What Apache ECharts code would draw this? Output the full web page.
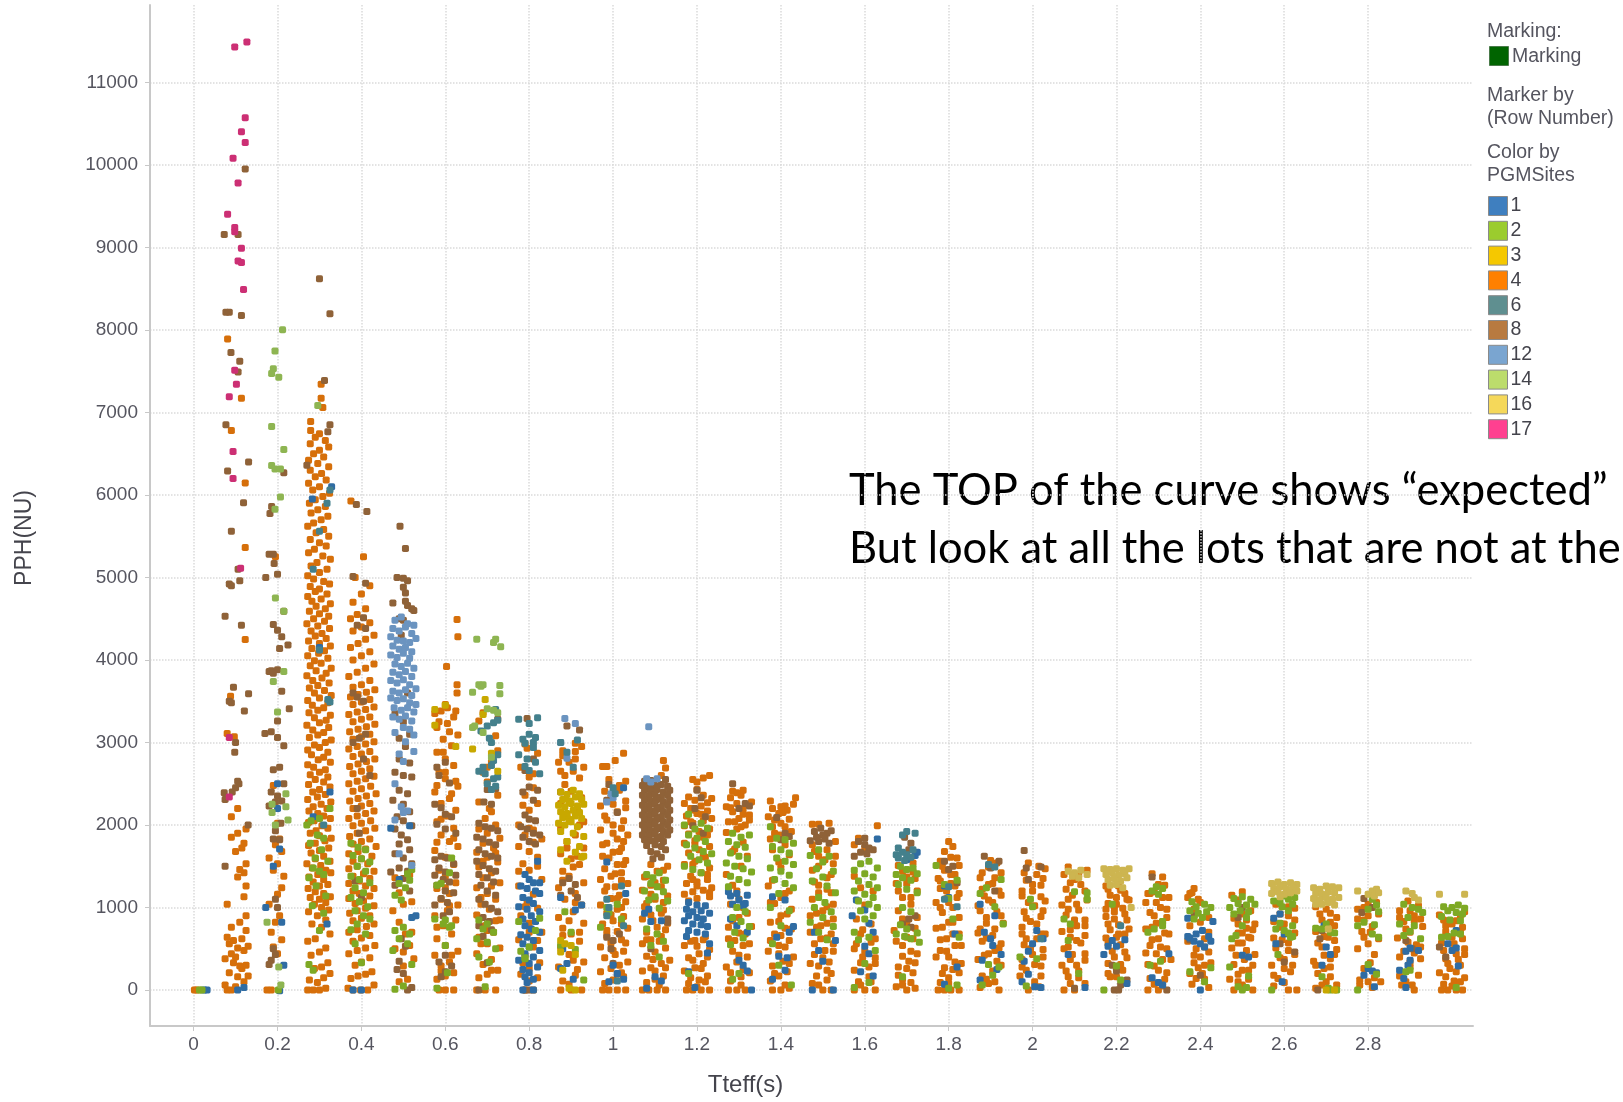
<!DOCTYPE html>
<html>
<head>
<meta charset="utf-8">
<script src="https://cdn.jsdelivr.net/npm/echarts@6/dist/echarts.min.js"></script>
<style>html,body{margin:0;background:#fff}#chart{width:1623px;height:1102px}</style>
</head>
<body>
<div id="chart"></div>
<script>
const xTicks = [0,.2,.4,.6,.8,1,1.2,1.4,1.6,1.8,2,2.2,2.4,2.6,2.8];
const yTicks = [0,1000,2000,3000,4000,5000,6000,7000,8000,9000,10000,11000];
const siteNames = ['1','2','3','4','6','8','12','14','16','17'];
// every site: x,y,x,y..., one line per Tteff column
const site4 = [
.002,0,.008,0,
.08,0,.09,0,.075,60,.1,40,.12,100,.13,170,.085,210,.105,160,.115,260,.125,300,.095,330,.11,290,.075,380,.09,440,.1,400,.12,480,.13,530,.085,560,.105,510,.08,640,.095,600,.115,620,.125,720,.09,760,.11,820,.125,900,.08,1040,.12,1130,.125,1260,.105,1370,.12,1420,.11,1460,.125,1530,.1,1680,.115,1720,.12,1780,.09,1850,.105,1900,.125,1950,.09,2100,.105,2200,.08,3110,.097,3070,.088,3560,.123,4247,.123,5362,.081,7890,.114,7170,.123,6145,.09,6780,
.175,0,.185,0,.19,520,.2,440,.21,610,.185,700,.195,820,.205,900,.18,1040,.2,1160,.21,1240,.215,1380,.19,1450,.2,1530,.18,1600,.21,1680,.195,1760,.205,1830,.2,2020,.19,2480,.195,5250,
.272,0,.285,0,.3,0,.315,20,.276,120,.295,90,.31,150,.325,200,.288,260,.305,280,.32,330,.28,420,.3,460,.315,510,.272,590,.29,620,.325,680,.305,760,.282,800,.315,850,.295,900,.274,950,.322,970,.305,1000,.288,1040,.315,1060,.3,1100,.278,1120,.326,1130,.31,1170,.29,1190,.273,1230,.3,1260,.32,1280,.285,1310,.31,1340,.275,1370,.296,1400,.327,1420,.315,1450,.283,1480,.303,1510,.27,1530,.325,1560,.29,1590,.31,1620,.28,1660,.3,1690,.322,1720,.274,1750,.29,1780,.313,1810,.328,1840,.3,1870,.278,1900,.292,1930,.32,1960,.306,1990,.274,2030,.287,2050,.326,2080,.31,2110,.296,2140,.275,2170,.318,2200,.285,2220,.304,2250,.327,2280,.272,2310,.295,2340,.314,2370,.284,2400,.3,2430,.325,2460,.274,2490,.31,2520,.29,2550,.32,2580,.278,2610,.3,2640,.314,2670,.286,2700,.272,2730,.326,2760,.297,2790,.31,2820,.281,2850,.32,2880,.272,2910,.3,2940,.288,2970,.314,3000,.328,3030,.276,3060,.296,3090,.31,3120,.284,3150,.322,3180,.27,3210,.3,3240,.316,3270,.288,3300,.326,3330,.275,3360,.296,3390,.31,3420,.283,3450,.32,3480,.272,3510,.3,3540,.328,3570,.288,3600,.312,3630,.276,3660,.296,3690,.323,3720,.284,3750,.306,3780,.27,3810,.316,3840,.292,3870,.328,3900,.278,3930,.304,3960,.288,3990,.32,4020,.272,4050,.298,4080,.312,4110,.282,4140,.326,4170,.3,4200,.274,4230,.316,4260,.29,4290,.306,4320,.28,4350,.324,4380,.296,4410,.27,4440,.312,4470,.286,4500,.322,4530,.3,4560,.276,4590,.314,4620,.292,4650,.326,4680,.282,4710,.304,4740,.272,4770,.318,4800,.29,4830,.3,4860,.278,4890,.324,4920,.31,4950,.286,4980,.272,5020,.3,5060,.318,5100,.28,5140,.294,5180,.326,5220,.308,5260,.274,5300,.288,5340,.316,5380,.3,5420,.278,5460,.322,5500,.292,5540,.31,5580,.272,5620,.286,5660,.304,5700,.32,5740,.28,5780,.296,5820,.314,5860,.276,5900,.29,5940,.308,5980,.324,6020,.284,6060,.3,6100,.274,6140,.316,6180,.29,6220,.305,6260,.278,6300,.322,6340,.296,6380,.274,6420,.31,6460,.286,6500,.3,6540,.322,6580,.278,6620,.314,6660,.29,6700,.279,6780,.3,6740,.279,6890,.304,7170,.308,7060,.304,7340,
.368,20,.38,0,.398,0,.415,0,.43,60,.375,140,.392,170,.41,190,.425,220,.385,300,.4,340,.42,390,.37,440,.39,480,.41,510,.432,540,.38,590,.4,630,.42,660,.37,700,.39,730,.412,770,.43,800,.38,840,.4,870,.42,900,.372,930,.39,960,.41,990,.43,1020,.385,1050,.405,1080,.37,1110,.42,1140,.395,1170,.38,1200,.43,1230,.41,1260,.37,1290,.395,1320,.42,1350,.38,1380,.405,1410,.43,1440,.37,1470,.39,1500,.415,1530,.38,1560,.4,1590,.425,1620,.37,1650,.392,1680,.41,1710,.435,1740,.38,1770,.4,1800,.42,1830,.372,1860,.39,1900,.41,1930,.432,1960,.38,1990,.4,2020,.422,2050,.37,2080,.39,2110,.41,2140,.43,2170,.38,2200,.4,2230,.42,2260,.372,2290,.392,2320,.412,2350,.435,2380,.38,2410,.4,2440,.422,2470,.37,2500,.39,2530,.41,2560,.43,2590,.38,2620,.4,2650,.42,2680,.372,2710,.392,2740,.412,2770,.432,2800,.38,2830,.4,2860,.42,2890,.37,2920,.39,2950,.41,2980,.43,3010,.38,3040,.4,3070,.42,3100,.372,3130,.392,3160,.412,3190,.432,3220,.38,3250,.4,3280,.42,3310,.37,3340,.39,3370,.41,3400,.43,3430,.38,3460,.4,3490,.42,3520,.374,3550,.392,3580,.412,3610,.432,3640,.38,3670,.4,3700,.42,3750,.37,3800,.39,3850,.41,3900,.43,3950,.38,4000,.4,4050,.42,4100,.374,4150,.392,4200,.41,4250,.43,4300,.38,4350,.4,4400,.42,4450,.374,4500,.39,4550,.41,4620,.38,4700,.4,4800,.42,4900,.385,5000,.405,5250,.375,5925,
.48,500,.5,460,.515,540,.49,820,.505,680,.52,700,.475,960,.5,1040,.52,1070,.49,1180,.515,1400,.48,1360,.49,100,.51,130,.5,290,.525,380,
.585,0,.6,0,.62,0,.58,130,.6,170,.62,210,.59,290,.61,340,.575,420,.63,470,.6,540,.58,620,.615,680,.595,780,.625,850,.575,900,.605,960,.63,1030,.59,1100,.61,1170,.58,1230,.625,1300,.6,1380,.585,1450,.62,1520,.6,1610,.575,1690,.63,1740,.61,1800,.59,1880,.62,1960,.58,2040,.605,2110,.625,2180,.59,2260,.61,2320,.575,2400,.63,2470,.6,2560,.585,2640,.62,2720,.6,2800,.58,2880,.615,2960,.595,3040,.63,3090,.58,3180,.605,3230,.62,3310,.59,3380,.575,3350,.605,3420,.6,3460,.625,3380,.628,3600,.628,3700,.63,4280,.628,4490,.603,3920,
.59,230,.615,420,.58,760,.61,1020,.6,1240,.58,1790,.62,1840,.59,2070,.615,2380,.6,2640,.58,2480,.625,2530,.595,2880,.61,3130,.585,3250,
.675,0,.695,0,.72,0,.68,150,.7,190,.725,240,.69,310,.71,370,.675,440,.73,510,.7,560,.68,640,.715,700,.695,780,.73,850,.675,910,.705,980,.685,1040,.72,1100,.7,1170,.675,1240,.73,1300,.69,1360,.71,1420,.68,1490,.725,1550,.7,1610,.675,1670,.715,1720,.69,1780,.73,1840,.7,1900,.68,1950,.72,2000,.695,2080,.71,2160,.68,2280,.725,2360,.7,2520,.69,2640,.71,2760,.68,3260,.69,3360,.725,2900,
.71,240,.685,560,.7,720,.72,840,.685,1120,.71,1260,.69,1560,.72,1660,.705,2200,.7,2700,.72,3080,
.79,0,.81,0,.78,190,.8,260,.825,330,.79,420,.81,520,.775,610,.83,700,.8,810,.78,900,.82,990,.795,1060,.81,1160,.775,1260,.83,1340,.8,1450,.785,1530,.82,1610,.8,1680,.775,1740,.81,1790,.83,1830,.79,1880,.81,1940,.775,2000,.8,2180,.82,2260,.79,2360,.81,2450,.8,2580,.78,2700,.82,2870,.795,2930,
.8,110,.82,150,.785,330,.82,600,.8,700,.79,1010,.775,1440,.82,1500,.8,1960,.785,2240,.81,2620,.79,2980,
.875,0,.9,0,.925,0,.88,110,.91,180,.87,280,.93,340,.895,430,.875,520,.92,590,.9,680,.88,750,.93,810,.87,880,.905,950,.925,1030,.885,1100,.91,1170,.87,1240,.93,1300,.895,1380,.88,1440,.92,1520,.9,1590,.875,1650,.93,1720,.89,1800,.91,1880,.875,1960,.93,2040,.89,2120,.915,2180,.875,2260,.925,2330,.9,2410,.885,2490,.92,2570,.875,2650,.93,2700,.895,2760,.88,2840,.91,2890,.925,2950,.87,2760,.91,2990,
.895,70,.915,250,.905,360,.88,660,.92,700,.895,840,.91,1060,.88,1330,.905,1490,.915,1620,.89,1720,.92,2000,.885,2600,.905,2650,.91,2800,.88,2900,
.975,0,.99,0,1.01,0,1.03,0,.98,80,1,120,1.025,160,.97,220,.995,260,1.015,300,1.035,340,.98,390,1.005,430,1.025,470,.97,520,.995,570,1.02,610,.985,660,1.01,710,1.035,750,.975,800,1,840,1.025,890,.985,930,1.01,980,.97,1030,1.03,1070,.995,1110,1.015,1150,.98,1200,1.005,1250,1.035,1290,.97,1340,.995,1380,1.02,1420,.98,1470,1.01,1520,1.03,1570,.975,1620,1,1670,1.02,1720,.985,1780,1.01,1830,1.035,1880,.97,1940,1,2000,1.025,2050,.98,2110,1.01,2160,.97,2230,1.03,2290,.995,2340,.98,2410,1.015,2480,1.03,2530,.99,2550,.975,2710,.985,2710,1.005,2780,1.025,2870,
1.02,210,1,480,1.03,570,.985,720,1.02,800,.995,910,1.02,1000,1.01,1110,.985,1250,1.02,1330,1.005,1410,1.025,1520,.99,1600,1.015,1680,.975,1760,1.025,1800,1,1900,1.02,1960,.985,2060,1.03,2210,1,2250,1.015,2420,
1.07,0,1.085,0,1.105,0,1.125,0,1.08,90,1.1,130,1.12,170,1.07,230,1.09,270,1.115,320,1.135,360,1.08,410,1.1,460,1.125,510,1.07,560,1.09,610,1.115,650,1.08,700,1.105,760,1.13,810,1.07,860,1.09,910,1.12,970,1.08,1050,1.1,1100,1.13,1140,1.07,1210,1.09,1270,1.12,1330,1.08,1380,1.105,1440,1.13,1500,1.12,2780,1.125,2690,1.115,2600,
1.11,60,1.1,230,1.125,270,1.095,370,1.08,610,1.11,590,1.125,730,1.095,840,1.115,930,1.075,1010,1.12,1060,1.09,1160,1.115,1250,1.1,1300,1.075,1370,1.12,1450,1.09,1520,
1.175,0,1.19,0,1.21,0,1.23,0,1.18,80,1.205,120,1.225,170,1.17,230,1.195,270,1.215,320,1.18,390,1.205,440,1.23,490,1.17,540,1.195,600,1.22,650,1.18,1080,1.2,1110,1.23,1130,1.17,1160,1.19,1190,1.215,1210,1.235,1240,1.175,1290,1.2,1310,1.225,1340,1.185,1380,1.21,1420,1.23,1480,1.17,1520,1.195,1560,1.22,1610,1.18,1660,1.205,1700,1.23,1740,1.17,1780,1.195,1810,1.215,1850,1.18,1890,1.205,1920,1.23,1950,1.17,1990,1.19,2020,1.215,2050,1.235,2080,1.175,2110,1.2,2140,1.225,2170,1.185,2200,1.21,2230,1.17,2260,1.195,2300,1.235,2320,1.18,2340,1.215,2360,1.2,2430,1.19,2550,1.23,2600,1.2,2520,1.215,2570,
1.2,40,1.22,100,1.185,150,1.21,260,1.19,360,1.225,400,1.2,530,1.185,590,1.215,610,1.23,1180,1.2,1260,1.19,1340,1.225,1400,1.19,1520,1.215,1620,1.195,1760,1.225,1880,1.185,2040,1.21,2130,1.195,2180,1.225,2270,
1.275,0,1.295,0,1.315,0,1.28,110,1.305,160,1.325,210,1.27,280,1.295,340,1.32,400,1.285,470,1.31,540,1.275,620,1.3,690,1.33,770,1.285,840,1.31,1000,1.28,1040,1.295,1200,1.27,1400,1.32,1620,1.285,1680,1.27,1910,1.295,1950,1.315,2000,1.275,2040,1.3,2080,1.325,2120,1.285,2160,1.31,2190,1.27,2220,1.295,2260,1.33,2280,1.28,2330,1.305,2360,1.285,2410,1.31,2420,1.295,2390,
1.305,60,1.28,210,1.31,250,1.3,420,1.325,560,1.29,600,1.315,680,1.275,760,1.3,880,1.32,930,1.3,1100,1.285,1270,1.305,1500,1.29,1710,1.31,1790,1.305,1980,1.29,2040,1.31,2130,1.28,2210,1.325,2060,
1.38,0,1.4,0,1.42,20,1.375,110,1.395,170,1.415,220,1.38,290,1.405,350,1.43,400,1.37,470,1.395,540,1.42,600,1.385,680,1.41,750,1.375,820,1.4,900,1.425,980,1.385,1050,1.41,1170,1.37,1260,1.395,1550,1.42,1640,1.38,1700,1.41,1760,1.375,1830,1.395,1880,1.425,1920,1.38,1980,1.4,2020,1.42,2070,1.37,2100,1.395,2140,1.415,2180,1.38,2200,1.41,2230,1.375,2290,1.435,2330,1.43,2250,1.405,2150,
1.41,60,1.385,200,1.42,320,1.395,440,1.41,520,1.375,600,1.4,660,1.425,740,1.395,830,1.415,920,1.375,1060,1.4,1120,1.42,1200,1.38,1330,1.4,1480,1.385,1900,1.41,1980,1.385,2060,1.4,2220,
1.475,80,1.5,0,1.52,0,1.485,170,1.51,240,1.47,320,1.5,390,1.525,470,1.48,560,1.51,630,1.47,700,1.495,780,1.525,860,1.485,930,1.51,1010,1.475,1100,1.52,1180,1.49,1270,1.51,1360,1.475,1450,1.525,1530,1.49,1620,1.51,1700,1.475,1760,1.53,1620,1.475,2010,1.49,2010,1.515,2020,1.53,1800,
1.49,60,1.51,120,1.52,200,1.49,290,1.515,340,1.48,430,1.505,480,1.525,560,1.495,620,1.52,680,1.485,760,1.51,810,1.47,900,1.5,960,1.525,1040,1.49,1180,1.51,1220,1.48,1310,1.52,1400,1.49,1500,1.505,1580,1.48,1680,
1.575,0,1.6,0,1.625,0,1.585,100,1.61,160,1.575,240,1.625,320,1.595,400,1.575,500,1.615,580,1.59,680,1.63,1990,1.6,1720,1.585,1840,1.575,1760,
1.59,60,1.615,100,1.61,280,1.59,330,1.625,390,1.6,470,1.58,560,1.625,620,1.595,730,1.615,800,1.58,860,1.6,1030,1.62,1200,1.59,1240,1.575,1380,
1.675,40,1.7,0,1.72,20,1.69,130,1.715,210,1.68,280,1.705,350,1.725,440,1.69,540,1.715,620,1.67,720,1.7,800,1.725,880,1.68,960,1.71,1040,1.69,1120,1.725,1200,1.675,1290,1.7,1370,1.715,1430,1.68,1510,
1.69,60,1.71,90,1.68,180,1.7,260,1.72,330,1.69,410,1.71,470,1.675,590,1.7,640,1.72,750,1.69,860,1.71,1120,1.68,1200,1.7,1290,1.72,1350,1.69,1440,1.715,1540,
1.775,0,1.79,0,1.805,0,1.825,0,1.78,90,1.8,150,1.825,210,1.79,270,1.815,340,1.77,400,1.795,470,1.83,540,1.78,610,1.81,680,1.77,750,1.8,820,1.825,880,1.785,940,1.81,1000,1.77,1060,1.795,1110,1.825,1170,1.78,1230,1.805,1290,1.775,1350,1.815,1400,1.79,1450,1.825,1510,1.78,1560,1.805,1610,1.79,1680,1.81,1740,1.8,1800,
1.8,80,1.785,200,1.81,250,1.83,320,1.8,400,1.78,480,1.815,540,1.795,620,1.825,680,1.785,760,1.81,820,1.78,1000,1.8,1060,1.82,1120,1.795,1200,1.815,1260,1.78,1320,1.805,1400,1.785,1500,1.82,1600,
1.875,30,1.895,80,1.92,0,1.88,170,1.905,230,1.925,300,1.87,370,1.895,440,1.92,510,1.88,590,1.905,660,1.875,740,1.93,810,1.89,880,1.915,950,1.87,1020,1.895,1090,1.925,1150,1.88,1220,1.905,1290,1.875,1360,1.925,1420,1.895,1490,1.915,1540,
1.89,130,1.91,100,1.915,350,1.885,420,1.91,480,1.925,560,1.89,630,1.87,690,1.91,740,1.89,810,1.925,900,1.875,960,1.905,1060,1.885,1140,1.92,1200,1.895,1280,1.91,1360,1.88,1420,1.9,1570,
1.97,170,1.99,0,2.015,40,1.985,240,2.02,290,1.975,370,2,430,2.025,490,1.98,550,2.01,620,2.03,680,1.975,760,1.995,830,2.02,890,1.98,950,2.005,1020,2.03,1080,1.975,1140,2,1200,2.02,1270,1.985,1330,2.01,1400,2.03,1470,1.99,1540,
2.005,100,2.02,170,1.975,280,2.005,310,2.025,400,1.995,500,1.985,620,2.02,680,1.975,680,2.01,800,1.985,870,2.025,960,1.99,1060,2.02,1130,1.975,1200,2,1280,2.025,1350,1.98,1420,2.015,1500,
2.075,0,2.1,0,2.125,80,2.085,160,2.11,230,2.07,300,2.125,360,2.095,430,2.075,500,2.115,570,2.09,640,2.07,710,2.125,780,2.1,850,2.08,910,2.11,970,2.07,1030,2.13,1090,2.095,1150,2.08,1220,2.115,1280,2.1,1340,2.075,1400,2.13,1450,2.085,1490,
2.09,80,2.11,150,2.08,230,2.105,300,2.09,370,2.125,440,2.085,520,2.105,600,2.125,660,2.09,730,2.105,780,2.125,850,2.085,980,2.105,1040,2.085,1100,2.125,1200,2.09,1300,2.11,1390,
2.185,160,2.215,240,2.18,320,2.225,390,2.19,470,2.21,550,2.175,630,2.205,680,2.23,740,2.18,800,2.195,860,2.22,920,2.175,980,2.2,1040,2.23,1090,2.185,1150,2.21,1210,2.175,1260,2.225,1100,2.195,1010,
2.2,160,2.18,200,2.21,310,2.195,400,2.22,460,2.18,560,2.2,640,2.22,680,2.185,730,2.205,790,2.225,850,2.175,890,2.195,950,2.215,990,2.18,1050,2.2,1120,2.22,1170,2.18,1220,2.205,1260,
2.275,0,2.3,0,2.31,50,2.28,140,2.32,210,2.29,290,2.33,370,2.27,450,2.305,520,2.285,610,2.325,680,2.27,740,2.295,810,2.32,880,2.28,940,2.305,1000,2.27,1060,2.325,1120,2.29,1190,2.315,1270,2.28,1170,2.285,1410,2.31,1370,
2.29,70,2.315,130,2.3,240,2.275,310,2.31,370,2.295,440,2.32,500,2.28,540,2.3,620,2.315,690,2.285,760,2.31,830,2.29,900,2.32,980,2.295,1060,2.31,1120,2.275,1170,2.3,1280,
2.38,70,2.41,130,2.42,30,2.375,200,2.395,270,2.425,330,2.385,420,2.41,520,2.37,590,2.42,700,2.385,980,2.4,1060,2.37,1120,2.385,1230,2.375,1170,
2.39,140,2.405,200,2.385,330,2.41,300,2.4,400,2.42,460,2.39,500,2.41,620,2.375,780,2.4,820,2.42,880,2.38,1180,2.395,1100,
2.48,0,2.5,60,2.525,0,2.47,130,2.49,190,2.515,240,2.48,310,2.505,370,2.53,430,2.475,510,2.5,570,2.52,630,2.49,690,2.51,750,2.53,800,2.48,870,2.49,1090,2.5,1190,2.475,1150,
2.49,100,2.515,130,2.5,240,2.525,300,2.485,420,2.51,480,2.49,570,2.515,640,2.5,690,2.525,730,2.49,800,2.51,850,2.5,920,2.52,960,
2.575,50,2.61,0,2.63,0,2.585,140,2.615,220,2.57,300,2.6,370,2.625,430,2.58,510,2.61,570,2.575,630,2.625,690,2.59,760,2.575,830,2.61,900,2.625,990,2.58,1040,
2.6,90,2.575,180,2.6,260,2.62,300,2.59,390,2.61,480,2.595,610,2.6,800,2.625,850,2.59,920,2.61,1010,
2.675,20,2.7,100,2.725,60,2.68,200,2.71,280,2.67,350,2.695,420,2.725,490,2.68,570,2.705,640,2.675,710,2.72,780,2.69,850,2.71,930,2.675,1010,
2.69,60,2.71,160,2.695,260,2.675,300,2.71,380,2.72,430,2.69,520,2.72,600,2.695,650,2.71,820,2.725,880,2.685,920,2.7,980,
2.78,120,2.81,30,2.83,100,2.79,260,2.815,430,2.775,500,2.8,560,2.825,620,2.785,710,2.81,770,2.79,850,2.825,920,2.775,980,2.8,1040,
2.8,100,2.815,150,2.78,60,2.805,330,2.79,640,2.805,700,2.775,860,2.8,900,2.82,1060,2.79,1000,
2.88,60,2.91,0,2.875,170,2.9,280,2.925,380,2.885,470,2.915,550,2.87,630,2.9,700,2.93,770,2.885,830,2.91,900,2.875,960,2.92,1020,2.895,1080,
2.89,100,2.905,60,2.92,180,2.9,340,2.875,400,2.91,450,2.925,520,2.895,580,2.89,740,2.91,840,2.875,880,2.925,860,2.9,960,
2.975,0,2.99,0,3.01,0,3.025,0,2.98,70,3.005,110,3.03,150,2.97,210,2.995,260,3.02,300,2.985,380,3.01,440,3.03,500,2.975,570,3,640,3.02,700,2.985,780,3.01,840,2.97,910,3.03,950,
3,50,3.02,100,2.985,160,3.01,220,2.99,320,3.015,370,3.03,430,2.98,480,3.005,560,3.025,620,2.985,710,3.025,760,3,800,2.98,850,3.02,900
];
const site8 = [
.123,9950,.073,9157,.106,9157,.077,8215,.085,8215,.114,8175,.089,7725,.11,7620,.106,7490,.077,6850,.131,6400,.081,6290,.119,5905,.09,5560,.106,5100,.09,4900,.085,4920,.11,4960,.114,4420,.075,4530,.095,3670,.085,3500,.09,3480,.131,3590,.121,3380,.1,3000,.098,2880,.092,2400,.105,2530,.1,2450,.108,2500,.073,2390,.075,2310,.13,2000,.075,1500,
.325,8195,.3,8620,.312,7385,.325,6850,.32,6765,.27,6360,.215,6270,.388,5885,.413,5800,.186,5860,.182,5775,.18,5280,.19,5280,.192,5170,.2,5040,.172,5000,.225,4180,.215,4590,.19,4430,.2,4360,.21,4280,.205,4140,.185,3870,.2,3880,.18,3860,.19,3840,.21,3620,.228,3410,.2,3260,.185,3130,.17,3110,.2,3060,.215,2960,.205,2700,.19,2670,.185,2400,.195,2280,.2,2350,.21,2290,.18,2230,.215,2500,.208,2020,.195,1930,.19,1830,.205,1820,.195,1100,.2,1000,.19,500,.195,430,.185,360,.18,310,
.38,5010,.41,4930,.405,4510,.39,4420,.41,4380,.38,3600,.39,3550,.405,3500,.38,3000,.395,3050,.41,3100,.405,2800,.42,2600,.395,1900,.39,2200,.385,1320,.4,1120,
.492,5620,.505,5350,.485,5000,.5,4990,.51,4960,.505,4810,.5,4880,.475,4690,.505,4710,.51,4660,.52,4620,.525,4600,.5,4480,.49,4500,.495,4300,.51,3600,.48,3350,.5,3250,.515,3100,.49,3050,.505,2950,.49,2800,.515,2750,.48,2640,.5,2600,.52,2580,.49,2420,.51,2380,.475,2300,.5,2250,.515,2160,.485,2100,.5,2050,.52,1990,.48,1950,.495,1880,.51,1820,.49,1770,.515,1700,.48,1650,.5,1600,.52,1530,.49,1480,.51,1440,.47,1430,.5,1350,.48,1270,.515,1200,.495,620,.505,530,.49,350,.485,250,.5,200,.52,30,.51,0,
.58,2700,.6,2760,.585,2600,.61,2510,.575,2250,.59,2210,.6,2130,.615,2100,.58,2010,.6,1950,.625,1900,.59,1620,.575,1580,.605,1600,.62,1530,.585,1480,.6,1430,.625,1390,.575,1390,.595,1340,.61,1310,.58,1270,.6,1200,.62,1180,.59,1110,.605,1060,.575,1030,.61,950,.595,900,.6,420,.585,340,.615,290,.6,220,.59,160,
.692,2280,.7,2430,.72,2440,.71,2250,.68,2020,.695,1980,.71,1960,.725,1930,.675,1850,.69,1830,.705,1790,.72,1760,.68,1700,.695,1650,.71,1620,.725,1600,.675,1560,.69,1510,.705,1470,.72,1440,.68,1400,.7,1360,.715,1310,.685,1270,.7,1200,.72,1150,.68,1100,.695,1040,.71,990,.725,950,.69,880,.705,830,.68,780,.71,730,.69,650,.7,330,.68,0,.725,3280,
.8,0,.79,0,.81,2800,.79,2660,.8,2460,.785,2400,.82,2420,.81,2300,.79,2120,.8,2070,.815,2050,.78,1980,.795,1950,.81,1900,.825,1880,.785,1850,.8,1800,.815,1770,.795,3290,
.895,1350,.88,1300,.91,1280,.9,1200,.875,1150,.915,1120,.89,3200,.875,2400,.92,3150,
1,600,1.015,680,.985,640,.995,500,1,320,1.01,190,.99,2490,.985,2300,1.01,2150,
1.075,2530,1.09,2540,1.125,2550,1.07,2480,1.085,2470,1.1,2480,1.115,2490,1.13,2470,1.075,2420,1.09,2410,1.105,2430,1.12,2400,1.135,2420,1.07,2360,1.085,2350,1.1,2370,1.115,2340,1.13,2360,1.075,2300,1.09,2290,1.105,2310,1.12,2280,1.135,2300,1.07,2240,1.085,2230,1.1,2250,1.115,2220,1.13,2240,1.075,2180,1.09,2170,1.105,2190,1.12,2160,1.135,2180,1.07,2120,1.085,2110,1.1,2130,1.115,2100,1.13,2120,1.075,2060,1.09,2050,1.105,2070,1.12,2040,1.135,2060,1.07,2000,1.085,1990,1.1,2010,1.115,1980,1.13,2000,1.075,1940,1.09,1930,1.105,1950,1.12,1920,1.135,1940,1.07,1880,1.085,1870,1.1,1890,1.115,1860,1.13,1880,1.075,1820,1.09,1810,1.105,1830,1.12,1800,1.08,1750,1.1,1760,1.115,1740,1.125,1700,1.09,1680,1.105,1650,1.115,1610,1.095,1590,1.13,860,1.13,820,1.09,500,
1.195,2200,1.21,2330,1.2,2420,1.22,2100,1.19,1990,1.215,1900,
1.3,2200,1.315,2260,1.325,2230,1.285,2500,
1.4,1820,1.41,1900,1.42,1860,1.39,2090,
1.48,1920,1.495,1960,1.51,1900,1.5,1880,1.52,1930,1.485,1850,1.505,1830,1.49,1800,1.515,1780,1.47,1810,
1.585,1800,1.6,1760,1.61,1720,1.59,1670,1.605,1650,1.575,1620,1.62,1700,1.6,1840,
1.695,1850,1.71,1780,1.705,1700,1.72,900,1.705,860,1.69,800,1.71,760,
1.8,1460,1.82,1300,1.79,1560,1.81,1500,
1.9,1480,1.92,1560,1.885,1620,1.91,1200,
1.98,1690,1.985,1480,2.02,1490,1.99,1340,
2.1,20,2.19,300,2.2,230,2.21,60,2.195,0,2.205,0,2.225,120,2.32,0,2.285,1370,
2.4,180,2.375,610,2.385,900,
2.5,1000,2.49,880,
2.625,460,2.6,340,2.59,560,
2.68,0,2.685,620,2.69,720,
2.81,1000,2.79,1110,2.785,940,
2.89,600,2.905,500,
2.97,520,2.985,400
];
const site1 = [
.025,0,.032,0,
.105,0,.12,30,.215,300,.2,2500,.205,-10,.21,820,.172,1000,.19,1500,.205,1710,.2,2200,
.283,5950,.329,6100,.285,2100,.325,2400,.318,800,.3,4150,
.4,0,.38,0,.47,1960,.52,880,.53,900,.49,1340,.515,1990,
.79,1400,.8,1340,.81,1300,.78,1260,.795,1230,.815,1200,.825,1170,.785,1120,.8,1090,.81,1050,.775,1010,.795,980,.825,950,.805,900,.785,860,.815,830,.79,780,.805,740,.825,700,.78,670,.795,640,.81,600,.785,560,.8,520,.825,480,.79,440,.81,400,.775,360,.8,320,.82,280,.785,250,.8,210,.79,160,.81,130,.795,90,.785,0,.81,0,.82,1560,.825,1300,
.875,1120,.925,1030,.91,970,.88,500,.89,320,.905,130,.875,260,
.99,100,1.01,200,1.025,130,.985,1550,1.03,1170,1,300,1.025,2450,
1.085,980,1.075,930,1.09,830,1.115,840,1.1,160,1.115,110,1.08,20,
1.18,1060,1.2,1030,1.22,1020,1.175,980,1.19,950,1.21,960,1.23,930,1.18,900,1.2,880,1.215,860,1.17,840,1.19,800,1.21,790,1.225,770,1.18,720,1.2,700,1.22,680,1.175,650,1.23,560,1.225,450,1.195,30,1.18,220,
1.275,1190,1.295,1170,1.32,1150,1.3,1090,1.285,1040,1.31,1020,1.28,860,1.295,780,1.32,700,1.3,360,1.31,300,1.32,230,1.33,0,1.28,1140,1.315,1050,
1.38,1130,1.41,1090,1.43,770,1.39,640,1.42,700,1.395,410,1.415,390,1.38,130,1.41,240,
1.475,0,1.525,0,1.49,480,1.5,350,1.48,700,1.53,600,
1.58,1090,1.6,970,1.61,810,1.62,700,1.6,530,1.61,440,1.62,170,1.59,220,1.63,1830,1.57,900,
1.7,1580,1.72,1630,1.725,1670,
1.79,1260,1.8,1120,1.815,680,1.82,280,1.79,70,
1.875,1040,1.91,900,1.885,700,1.905,540,1.925,430,1.88,360,1.915,250,1.875,120,1.9,620,
1.975,100,1.99,190,2.005,40,1.98,350,2.025,620,2.01,720,2,560,1.99,470,2.02,30,
2.17,430,2.19,600,2.18,530,2.22,610,2.225,80,2.2,530,2.125,30,2.085,430,
2.3,90,2.285,150,2.31,60,2.325,440,
2.375,630,2.39,680,2.405,720,2.42,650,2.385,590,2.4,560,2.37,650,2.43,830,2.37,870,2.425,590,2.4,0,2.41,520,
2.5,420,2.515,400,2.6,680,2.59,920,2.575,870,2.58,560,2.595,100,
2.695,780,2.7,520,2.71,430,2.69,300,
2.8,260,2.79,180,2.82,210,2.81,230,2.815,40,
2.89,470,2.9,510,2.92,480,2.875,240,2.885,140,2.895,300,2.89,30,2.9,360,
2.99,560,3.01,510,3,480,3.01,720,3.015,290
];
const site2 = [
.014,0,.02,0,
.202,0,
.28,2050,.3,2080,.325,2200,.27,2000,.295,1880,.31,1840,.278,1780,.305,1700,.29,1600,.32,1560,.285,1480,.3,1440,.31,1400,.275,1360,.292,1260,.315,1140,.283,1020,.31,930,.3,720,.275,310,.285,240,
.375,1780,.392,1730,.41,1700,.38,1630,.4,1590,.42,1550,.39,1500,.41,1440,.375,1380,.395,1340,.42,1300,.385,1240,.405,1180,.375,1120,.395,1070,.415,1010,.385,960,.405,900,.42,860,.39,800,.375,730,.41,680,.385,560,.4,330,
.52,1460,.51,1410,.515,1330,.49,1290,.505,1240,.48,1150,.495,1090,.5,760,.515,680,.49,620,.48,720,.51,560,.475,480,.52,310,.5,50,.48,10,
.615,1600,.61,1420,.59,1290,.6,850,.575,860,.595,800,.6,540,.61,760,.615,780,.58,1270,.605,210,.58,20,
.68,850,.7,800,.69,740,.715,700,.675,620,.7,580,.72,500,.705,340,.68,400,.695,40,
.78,470,.79,390,.8,520,.815,720,.825,870,.79,380,.775,830,
.875,540,.91,490,.885,950,.9,700,.93,120,
.985,1000,.99,940,.97,760,1.01,1040,1.02,860,
1.08,1400,1.095,1360,1.11,1420,1.125,1330,1.09,1290,1.105,1250,1.075,1200,1.12,1190,1.1,1130,1.085,1090,1.13,1080,1.11,990,1.08,740,1.105,680,1.12,590,1.09,540,1.11,400,
1.18,2130,1.17,2000,1.195,1950,1.21,2020,1.225,1960,1.18,1880,1.2,1840,1.22,1800,1.175,1760,1.195,1720,1.215,1680,1.235,1650,1.185,1620,1.205,1580,1.225,1540,1.17,1500,1.19,1460,1.21,1420,1.18,200,
1.285,1900,1.305,1850,1.325,1880,1.275,1800,1.295,1760,1.315,1730,1.28,1660,1.3,1620,1.32,1590,1.27,1540,1.29,1500,1.31,1470,1.33,1430,1.28,1380,1.3,1340,1.32,1300,1.275,1250,1.295,1000,1.315,950,1.285,880,1.305,830,1.325,770,1.29,700,1.31,630,1.28,550,1.3,200,1.285,130,
1.375,1980,1.39,1840,1.41,1820,1.43,1780,1.38,1740,1.4,1700,1.42,1660,1.39,1600,1.41,1560,1.43,1520,1.375,1480,1.4,1440,1.42,1390,1.385,1340,1.41,1290,1.43,1240,1.395,1170,1.375,1000,1.42,960,1.4,780,1.38,560,1.395,300,1.425,60,
1.49,1700,1.47,1630,1.515,1620,1.5,1550,1.485,1470,1.525,1440,1.5,1370,1.475,1320,1.51,1260,1.53,1180,1.49,1120,1.505,1060,1.48,1000,1.52,950,1.5,880,1.47,820,1.525,770,1.49,700,1.51,610,
1.59,1530,1.61,1560,1.63,1480,1.575,1450,1.6,1410,1.62,1370,1.585,1320,1.61,1280,1.63,1240,1.575,1200,1.6,1160,1.62,1120,1.585,1080,1.61,1040,1.63,1000,1.59,960,1.62,900,1.6,860,1.575,700,1.61,640,1.585,610,1.625,480,1.6,320,1.575,30,1.61,90,
1.685,1500,1.7,1460,1.715,1480,1.725,1410,1.675,1400,1.69,1360,1.71,1330,1.68,1280,1.7,1220,1.725,1180,1.685,790,1.71,950,1.69,1000,1.725,690,1.675,680,1.7,740,1.71,620,1.695,650,1.73,580,1.69,160,
1.77,1510,1.8,1110,1.82,1330,1.79,1280,1.81,860,1.825,640,1.8,20,1.82,60,
1.89,1240,1.925,1340,1.875,1170,1.91,1010,1.93,800,1.895,310,1.905,180,1.88,60,1.92,280,
1.995,1100,2,1010,1.97,400,1.985,50,2.01,380,
2.1,1190,2.075,860,2.13,1100,2.085,600,2.09,800,2.11,200,2.13,1180,
2.17,0,2.2,290,2.21,120,2.19,1040,
2.31,1230,2.285,1200,2.3,1160,2.295,1250,2.31,830,2.29,740,2.31,780,2.275,700,2.28,300,2.305,350,
2.38,1070,2.39,1010,2.41,1040,2.425,1000,2.375,960,2.395,930,2.415,950,2.405,880,2.385,860,2.375,220,2.425,270,2.41,100,
2.48,1110,2.5,1130,2.52,1100,2.53,1040,2.47,1000,2.49,1050,2.51,1030,2.495,960,2.515,950,2.48,920,2.51,880,2.5,780,2.475,620,2.485,660,2.47,280,2.515,170,2.49,40,2.5,0,2.51,30,
2.6,1140,2.61,1100,2.625,1120,2.59,1060,2.62,1040,2.595,1010,2.575,1080,2.61,960,2.62,780,2.59,810,2.6,720,2.61,690,2.58,740,2.615,640,2.62,650,2.57,0,2.585,430,
2.7,800,2.69,740,2.675,750,2.71,700,2.72,690,2.705,20,2.725,0,2.71,0,2.69,160,
2.81,1100,2.82,1030,2.8,980,2.825,950,2.79,820,2.815,790,2.775,780,2.81,680,2.825,640,2.82,190,2.775,0,2.8,310,
2.885,1040,2.905,1000,2.92,980,2.93,940,2.895,880,2.875,800,2.91,780,2.9,710,2.885,660,2.925,620,2.9,240,2.89,220,
2.98,1010,3,1000,3.015,1030,3.03,990,2.99,960,3.01,940,3.025,920,2.975,890,2.995,850,3.02,840,3.005,690,3.02,680,2.99,650,2.975,640,3.01,30
];
const site3 = [
.6,3450,.575,3210,.575,3400,.625,2950,.695,3520,.69,3340,.725,2650,.71,2870,.665,2920,
.875,2400,.89,2370,.905,2420,.92,2380,.88,2310,.895,2290,.91,2340,.925,2310,.87,2240,.885,2220,.9,2260,.915,2230,.93,2250,.875,2160,.89,2140,.905,2180,.92,2150,.88,2090,.895,2070,.91,2110,.925,2080,.87,2020,.885,2000,.9,2040,.915,1980,.875,1920,.905,1900,.93,1860,.89,1800,.92,1740,.875,1700,.91,1670,.925,1610,.89,1560,.93,1620,.885,560,.9,540,.875,600,.88,240,.895,20,.91,0,.875,460,.91,430,2.72,0,2.7,0
];
const site6 = [
.325,6060,.318,5900,.3,5560,.285,5100,.31,2000,.3,4120,.32,3520,.325,3490,
.68,2650,.69,2700,.71,2720,.695,2620,.715,2560,.725,2580,.7,2500,.72,2470,.71,2430,.685,3140,.7,3200,.71,3000,.715,3240,.725,3270,.705,3050,.725,2850,.715,2780,.72,3400,
.775,3280,.8,3230,.82,3300,.8,3100,.815,3060,.79,2990,.81,2940,.775,2850,.795,2800,.815,2760,.79,2710,.8,2660,.825,2620,.81,3000,.785,3040,
.875,3000,.89,2880,.915,3030,.905,2700,
1,2450,1.005,2380,.985,1100,1.02,1260,.99,1000,1.025,780,.985,900,1.01,110,
1.68,1720,1.69,1670,1.7,1640,1.71,1610,1.675,1640,1.695,1570,1.715,1700,1.72,1900,1.7,1920,1.69,1880,1.68,1600,
1.895,1520,1.91,1490,1.8,1250,1.82,1010,1.79,1100,
2.02,620,2.21,780
];
const site12 = [
.48,4480,.495,4520,.51,4440,.525,4420,.475,4380,.49,4350,.505,4400,.52,4320,.53,4260,.47,4280,.485,4240,.5,4230,.515,4210,.475,4170,.49,4130,.505,4150,.52,4100,.47,4060,.485,4030,.5,4080,.515,4020,.48,3950,.495,3920,.51,3960,.525,3900,.475,3850,.49,3820,.505,3860,.52,3800,.47,3750,.485,3720,.5,3760,.515,3700,.53,3650,.475,3620,.49,3600,.505,3640,.52,3570,.47,3540,.485,3510,.5,3530,.515,3480,.53,3460,.478,3420,.495,3390,.51,3420,.525,3370,.475,3310,.49,3280,.505,3320,.52,3260,.5,3180,.515,3160,.48,3120,.525,3090,.505,3010,.49,2860,.5,2770,.525,2890,.48,2500,.495,2220,.51,2170,.48,2060,.5,2150,.52,1510,.49,1650,1.085,3190,
.885,3290,.875,3000,.91,3230,.89,2810,1.09,2520,1.105,2560,.995,2380,1,2330,.985,2280,1.08,2560
];
const site14 = [
.212,8000,.194,7745,.19,7530,.186,7470,.203,7425,.296,7085,.186,6830,.215,6550,.186,6355,.194,6315,.207,6315,.207,5975,.194,5825,.195,4750,.215,4590,.2,3370,.215,3860,.19,3740,.22,2380,.187,2250,.22,2220,.195,2000,.225,2060,.187,2150,.175,820,.203,280,.208,60,
.675,4250,.715,4210,.72,4250,.732,4160,.68,3700,.685,3680,.69,3700,.665,3610,.7,3410,.715,3390,.725,3360,.73,3690,.73,3590,
.67,3200,.69,3120,.665,3180,.71,2820
];
const site16 = [
2.085,1440,2.1,1420,2.115,1450,2.13,1400,2.095,1380,2.11,1360,
2.17,1470,2.185,1460,2.2,1470,2.215,1450,2.23,1470,2.175,1400,2.19,1420,2.205,1390,2.22,1410,2.18,1340,2.195,1350,2.21,1320,2.225,1360,2.185,1270,2.2,1280,2.215,1240,2.235,1000,
2.57,1290,2.585,1310,2.6,1280,2.615,1300,2.63,1280,2.575,1230,2.59,1250,2.605,1220,2.62,1240,2.57,1170,2.585,1190,2.6,1160,2.615,1180,2.63,1200,2.59,1130,
2.67,1240,2.685,1220,2.7,1260,2.715,1250,2.73,1240,2.675,1170,2.69,1160,2.705,1190,2.72,1180,2.73,1120,2.67,1110,2.685,1090,2.7,1120,2.715,1100,2.675,1040,2.69,1040,2.705,1060,2.72,1030,2.705,740,
2.775,1200,2.81,1200,2.82,1220,2.8,1160,2.815,1140,2.825,1180,2.89,1200,2.91,1120,2.905,1170,2.92,1090,2.97,1160,3.03,1160
];
const site17 = [
.098,11427,.127,11490,.123,10570,.114,10400,.123,10270,.094,10080,.106,9780,.081,9400,.098,9240,.098,9190,.114,8990,.106,8835,.114,8815,.119,8490,.098,7510,.102,7340,.085,7190,.094,6525,.094,6200,.112,5110,.085,3060,.085,2340
];
const toPoints = a => { const out = []; for (let i = 0; i < a.length; i += 2) out.push([a[i], a[i + 1]]); return out; };
// drawn in this order, orange at the bottom
const drawOrder = [['4', site4, '#d66f0a'], ['8', site8, '#8f6238'], ['1', site1, '#2f6ca3'], ['2', site2, '#7ea924'], ['12', site12, '#6b94c0'], ['6', site6, '#44808c'], ['3', site3, '#c8a800'], ['14', site14, '#8eb552'], ['16', site16, '#cdb550'], ['17', site17, '#cc2f74']];
const legendColors = ['#3f7fbf','#9bcc2e','#f5c800','#ff8000','#5f8f90','#b87a40','#7aa5d0','#bcdc6c','#f5d85a','#ff4090'];
const chart = echarts.init(document.getElementById('chart'));
const gridLine = { show: true, lineStyle: { type: 'dotted', color: '#dadada', width: 1.5 } };
const axisText = { color: '#55555f', fontSize: 19, fontFamily: 'Liberation Sans' };
const noteFont = '43.5px Lato';
const sideFont = '19.5px Liberation Sans';
chart.setOption({
  animation: false,
  grid: { left: 150, right: 150, top: 5, bottom: 76 },
  xAxis: {
    type: 'value', min: -0.104, max: 3.05,
    name: 'Tteff(s)', nameLocation: 'middle', nameGap: 47,
    nameTextStyle: { color: '#44444c', fontSize: 24, fontFamily: 'Liberation Sans', padding: [0, 132, 0, 0] },
    axisLine: { show: true, onZero: false, lineStyle: { color: '#c8c8c8', width: 2 } },
    axisTick: { show: true, customValues: xTicks, length: 5, lineStyle: { color: '#c8c8c8' } },
    axisLabel: { customValues: xTicks, margin: 9, formatter: v => String(v), ...axisText },
    splitLine: gridLine
  },
  yAxis: {
    type: 'value', min: -436, max: 11937,
    name: 'PPH(NU)', nameLocation: 'middle', nameGap: 114,
    nameTextStyle: { color: '#44444c', fontSize: 23, fontFamily: 'Liberation Sans', padding: [0, 45, 0, 0] },
    axisLine: { show: true, onZero: false, lineStyle: { color: '#c8c8c8', width: 2 } },
    axisTick: { show: true, customValues: yTicks, length: 5, lineStyle: { color: '#c8c8c8' } },
    axisLabel: { customValues: yTicks, margin: 12, formatter: v => String(v), ...axisText },
    splitLine: gridLine
  },
  legend: {
    orient: 'vertical', left: 1483, top: 191, itemWidth: 19, itemHeight: 19, itemGap: 4.8, icon: 'rect',
    textStyle: { color: '#44444c', fontSize: 19.5, fontFamily: 'Liberation Sans', padding: [0, 0, 0, -2] },
    selectedMode: false,
    data: siteNames.map((n, i) => ({ name: n, itemStyle: { color: legendColors[i], borderColor: '#8a8a8a', borderWidth: 1, opacity: 1 } }))
  },
  series: drawOrder.map(([name, values, color]) => ({
    name, type: 'scatter', symbol: 'roundRect', symbolSize: 7,
    data: toPoints(values), itemStyle: { color, opacity: 1 }
  })),
  graphic: [
    { type: 'text', left: 1487, top: 22, style: { text: 'Marking:', fill: '#55555f', font: sideFont } },
    { type: 'rect', left: 1489, top: 46, shape: { width: 19, height: 19 }, style: { fill: '#006400', stroke: '#4a7a4a' } },
    { type: 'text', left: 1512, top: 47, style: { text: 'Marking', fill: '#55555f', font: sideFont } },
    { type: 'text', left: 1487, top: 86, style: { text: 'Marker by', fill: '#55555f', font: sideFont } },
    { type: 'text', left: 1487, top: 109, style: { text: '(Row Number)', fill: '#55555f', font: sideFont } },
    { type: 'text', left: 1487, top: 143, style: { text: 'Color by', fill: '#55555f', font: sideFont } },
    { type: 'text', left: 1487, top: 166, style: { text: 'PGMSites', fill: '#55555f', font: sideFont } },
    { type: 'text', left: 849, top: 469, style: { text: 'The TOP of the curve shows “expected”', fill: '#000', font: noteFont } },
    { type: 'text', left: 849, top: 527, style: { text: 'But look at all the lots that are not at the', fill: '#000', font: noteFont } }
  ]
});
</script>
</body>
</html>
